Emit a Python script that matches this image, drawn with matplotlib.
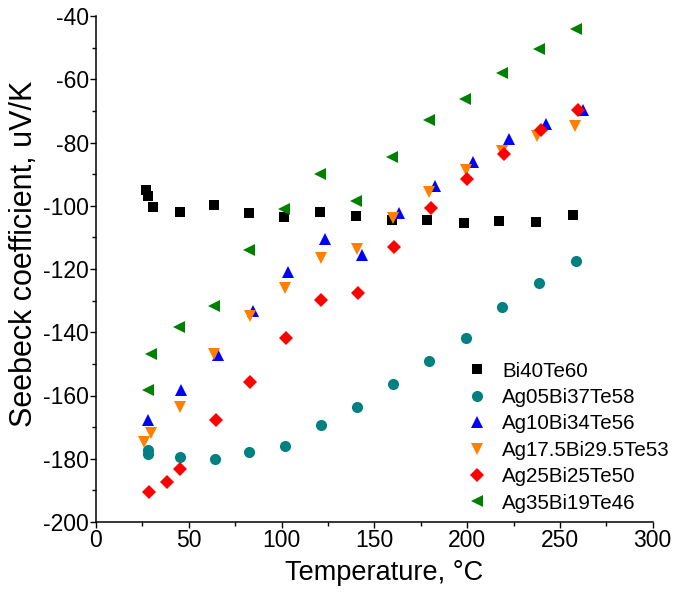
import matplotlib
matplotlib.use("Agg")
import matplotlib.pyplot as plt
from matplotlib.ticker import MultipleLocator

plt.rcParams['font.family'] = ['Liberation Sans', 'DejaVu Sans']
plt.rcParams['axes.unicode_minus'] = False

# ---- data ----
t_bi40 = [27.2, 27.8, 30.8, 45.1, 63.5, 82.3, 101.4, 120.6, 139.9, 159.3, 178.4, 198.1, 217.4, 236.9, 256.8]
s_bi40 = [-95.1, -96.8, -100.4, -102.0, -99.9, -102.3, -103.4, -102.1, -103.2, -104.4, -104.4, -105.3, -104.8, -105.0, -103.0]

t_ag05 = [28.1, 28.1, 45.1, 63.9, 82.7, 102.0, 121.5, 140.5, 159.8, 179.6, 199.4, 219.0, 238.8, 258.6]
s_ag05 = [-177.2, -178.5, -179.4, -180.1, -177.8, -175.9, -169.2, -163.7, -156.4, -149.2, -141.8, -132.1, -124.5, -117.5]

t_ag10 = [28.1, 46.0, 65.6, 84.8, 103.6, 123.3, 143.2, 163.5, 182.8, 202.9, 222.7, 242.5, 262.6]
s_ag10 = [-167.9, -158.2, -147.1, -133.3, -121.0, -110.6, -115.6, -102.3, -93.9, -86.3, -79.0, -74.1, -69.8]

t_ag175 = [25.9, 29.9, 45.1, 63.5, 83.0, 102.0, 121.1, 140.5, 159.8, 179.6, 199.4, 218.8, 237.8, 258.2]
s_ag175 = [-174.8, -171.7, -163.7, -146.8, -134.9, -126.1, -116.6, -113.7, -103.9, -95.5, -88.8, -82.8, -78.0, -74.8]

t_ag25 = [28.6, 38.3, 45.5, 64.4, 83.2, 102.4, 121.5, 141.2, 160.8, 180.6, 199.9, 219.8, 239.9, 259.5]
s_ag25 = [-190.4, -187.2, -183.3, -167.9, -155.6, -141.8, -129.8, -127.7, -112.9, -100.7, -91.5, -83.5, -76.2, -69.8]

t_ag35 = [28.1, 29.9, 44.7, 63.5, 82.3, 101.4, 120.6, 139.9, 159.6, 179.3, 199.0, 218.9, 238.7, 258.5]
s_ag35 = [-158.2, -146.8, -138.3, -131.7, -114.0, -101.1, -89.9, -98.4, -84.7, -72.9, -66.1, -57.9, -50.3, -44.1]

labels = ['Bi40Te60', 'Ag05Bi37Te58', 'Ag10Bi34Te56', 'Ag17.5Bi29.5Te53', 'Ag25Bi25Te50', 'Ag35Bi19Te46']

x_label = 'Temperature, °C'
y_label = 'Seebeck coefficient, uV/K'

# ---- figure ----
fig = plt.figure(figsize=(6.76, 5.94), dpi=100)
W, H = 676, 594
ax = fig.add_axes([96 / W, 1 - 522 / H, (652.7 - 96) / W, (522 - 16) / H])

series = [
    (t_bi40, s_bi40, 's', '#000000', 6.7),
    (t_ag05, s_ag05, 'o', '#008080', 8.0),
    (t_ag10, s_ag10, '^', '#0000FF', 8.6),
    (t_ag175, s_ag175, 'v', '#FF8000', 8.6),
    (t_ag25, s_ag25, 'D', '#FF0000', 6.8),
    (t_ag35, s_ag35, '<', '#008000', 8.6),
]
for (tx, sy, mk, col, ms), lab in zip(series, labels):
    ax.plot(tx, sy, linestyle='none', marker=mk, color=col, markersize=ms,
            markeredgewidth=0, label=lab)

ax.set_xlim(0, 300)
ax.set_ylim(-200, -40)
ax.xaxis.set_major_locator(MultipleLocator(50))
ax.xaxis.set_minor_locator(MultipleLocator(25))
ax.yaxis.set_major_locator(MultipleLocator(20))
ax.yaxis.set_minor_locator(MultipleLocator(10))

for side in ['top', 'right']:
    ax.spines[side].set_visible(False)
for side in ['left', 'bottom']:
    ax.spines[side].set_linewidth(1.1)

ax.tick_params(which='major', direction='out', length=4.3, width=1.0, labelsize=16.5, pad=1)
ax.tick_params(which='minor', direction='out', length=2.6, width=1.0)

ax.set_xlabel(x_label, fontsize=19.5)
ax.xaxis.label.set_verticalalignment('baseline')
ax.xaxis.set_label_coords((384 - 96) / 556.7, (522 - 580) / 506)

ax.set_ylabel(y_label, fontsize=22)
ax.yaxis.label.set_verticalalignment('baseline')
ax.yaxis.set_label_coords((31.7 - 96) / 556.7, (522 - 254) / 506)

leg = ax.legend(loc='upper left', bbox_to_anchor=(0.666, 0.317), frameon=False,
                fontsize=14.8, numpoints=1, handlelength=1.0, handletextpad=0.72,
                labelspacing=0.36, borderpad=0, borderaxespad=0)

fig.savefig('out.png', dpi=100)
